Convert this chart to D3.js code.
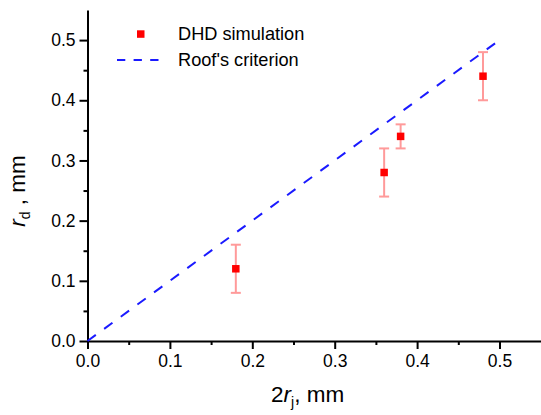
<!DOCTYPE html>
<html>
<head>
<meta charset="utf-8">
<script src="https://cdn.jsdelivr.net/npm/d3@7"></script>
<style>
  html, body { margin: 0; padding: 0; background: #fff; }
  svg { display: block; font-family: "Liberation Sans", Arial, sans-serif; }
</style>
</head>
<body>
<svg id="chart" width="541" height="415"></svg>
<script>
// ---- data ----
const xVals = [0.18, 0.36, 0.38, 0.48];        // 2 r_j, mm
const yVals = [0.12, 0.28, 0.34, 0.44];        // r_d, mm (DHD simulation)
const yErr  = [0.04, 0.04, 0.02, 0.04];        // error half-widths
const roofX = [0, 0.5];                        // Roof's criterion r_d = 2 r_j
const roofY = [0, 0.5];
const xTicks = [0.0, 0.1, 0.2, 0.3, 0.4, 0.5];
const yTicks = [0.0, 0.1, 0.2, 0.3, 0.4, 0.5];
const minorTicks = [0.05, 0.15, 0.25, 0.35, 0.45];
const legendLabels = ["DHD simulation", "Roof's criterion"];

// ---- layout ----
const svg = d3.select("#chart");
const x = d3.scaleLinear().domain([0, 0.55]).range([87.5, 540.7]);
const y = d3.scaleLinear().domain([0, 0.55]).range([341, 10]);

const axisColor = "#000";
const tickFont = 17.5;

// Minor ticks
svg.append("g").attr("transform", `translate(0,${y(0)})`)
  .call(d3.axisBottom(x).tickValues(minorTicks).tickSize(4).tickFormat(""))
  .call(g => g.select(".domain").remove())
  .call(g => g.selectAll("line").attr("stroke", axisColor).attr("stroke-width", 2));
svg.append("g").attr("transform", `translate(${x(0)},0)`)
  .call(d3.axisLeft(y).tickValues(minorTicks).tickSize(4).tickFormat(""))
  .call(g => g.select(".domain").remove())
  .call(g => g.selectAll("line").attr("stroke", axisColor).attr("stroke-width", 2));

// Major x axis
const gx = svg.append("g").attr("transform", `translate(0,${y(0)})`)
  .call(d3.axisBottom(x).tickValues(xTicks).tickSize(8).tickSizeOuter(0)
        .tickPadding(6).tickFormat(d3.format(".1f")));
gx.select(".domain").attr("stroke", axisColor).attr("stroke-width", 2);
gx.selectAll("line").attr("stroke", axisColor).attr("stroke-width", 2);
gx.selectAll("text").attr("font-size", tickFont).attr("font-family", "Liberation Sans, Arial, sans-serif").attr("fill", "#000");

// Major y axis
const gy = svg.append("g").attr("transform", `translate(${x(0)},0)`)
  .call(d3.axisLeft(y).tickValues(yTicks).tickSize(8).tickSizeOuter(0)
        .tickPadding(4).tickFormat(d3.format(".1f")));
gy.select(".domain").attr("stroke", axisColor).attr("stroke-width", 2);
gy.selectAll("line").attr("stroke", axisColor).attr("stroke-width", 2);
gy.selectAll("text").attr("font-size", tickFont).attr("font-family", "Liberation Sans, Arial, sans-serif").attr("fill", "#000");

// Roof's criterion line
const line = d3.line().x(d => x(d[0])).y(d => y(d[1]));
svg.append("path")
  .datum(d3.zip(roofX, roofY))
  .attr("d", line)
  .attr("fill", "none")
  .attr("stroke", "#1a1aff")
  .attr("stroke-width", 2)
  .attr("stroke-dasharray", "10.3,10.3");

// Error bars
const pts = d3.range(xVals.length).map(i => ({x: xVals[i], y: yVals[i], e: yErr[i]}));
const errColor = "#ff9a9a";
const eb = svg.append("g");
eb.selectAll("line.v").data(pts).join("line")
  .attr("x1", d => x(d.x)).attr("x2", d => x(d.x))
  .attr("y1", d => y(d.y + d.e)).attr("y2", d => y(d.y - d.e))
  .attr("stroke", errColor).attr("stroke-width", 2);
eb.selectAll("line.t").data(pts).join("line")
  .attr("x1", d => x(d.x) - 5).attr("x2", d => x(d.x) + 5)
  .attr("y1", d => y(d.y + d.e)).attr("y2", d => y(d.y + d.e))
  .attr("stroke", errColor).attr("stroke-width", 2);
eb.selectAll("line.b").data(pts).join("line")
  .attr("x1", d => x(d.x) - 5).attr("x2", d => x(d.x) + 5)
  .attr("y1", d => y(d.y - d.e)).attr("y2", d => y(d.y - d.e))
  .attr("stroke", errColor).attr("stroke-width", 2);

// Markers
svg.append("g").selectAll("rect").data(pts).join("rect")
  .attr("x", d => x(d.x) - 3.75).attr("y", d => y(d.y) - 3.75)
  .attr("width", 7.5).attr("height", 7.5)
  .attr("fill", "#ff0000");

// Legend
const lg = svg.append("g");
lg.append("rect").attr("x", 137).attr("y", 30.3).attr("width", 7.5).attr("height", 7.5).attr("fill", "#ff0000");
lg.append("text").attr("x", 178).attr("y", 39.5).attr("font-size", 18.2).text(legendLabels[0]);
lg.append("line").attr("x1", 117).attr("x2", 159).attr("y1", 60).attr("y2", 60)
  .attr("stroke", "#1a1aff").attr("stroke-width", 2).attr("stroke-dasharray", "8.3,8.3");
lg.append("text").attr("x", 178).attr("y", 65.7).attr("font-size", 18.2).text(legendLabels[1]);

// Axis titles
const xt = svg.append("text").attr("x", 271).attr("y", 401.5).attr("font-size", 22.5);
xt.append("tspan").text("2");
xt.append("tspan").attr("font-style", "italic").text("r");
xt.append("tspan").attr("font-size", 14).attr("dy", 5).text("j");
xt.append("tspan").attr("dy", -5).text(", mm");

const yt = svg.append("text").attr("transform", "translate(25,191) rotate(-90)")
  .attr("text-anchor", "middle").attr("font-size", 22.5);
yt.append("tspan").attr("font-style", "italic").text("r");
yt.append("tspan").attr("font-size", 14).attr("dy", 5).text("d");
yt.append("tspan").attr("dy", -5).text(" , mm");
</script>
</body>
</html>
